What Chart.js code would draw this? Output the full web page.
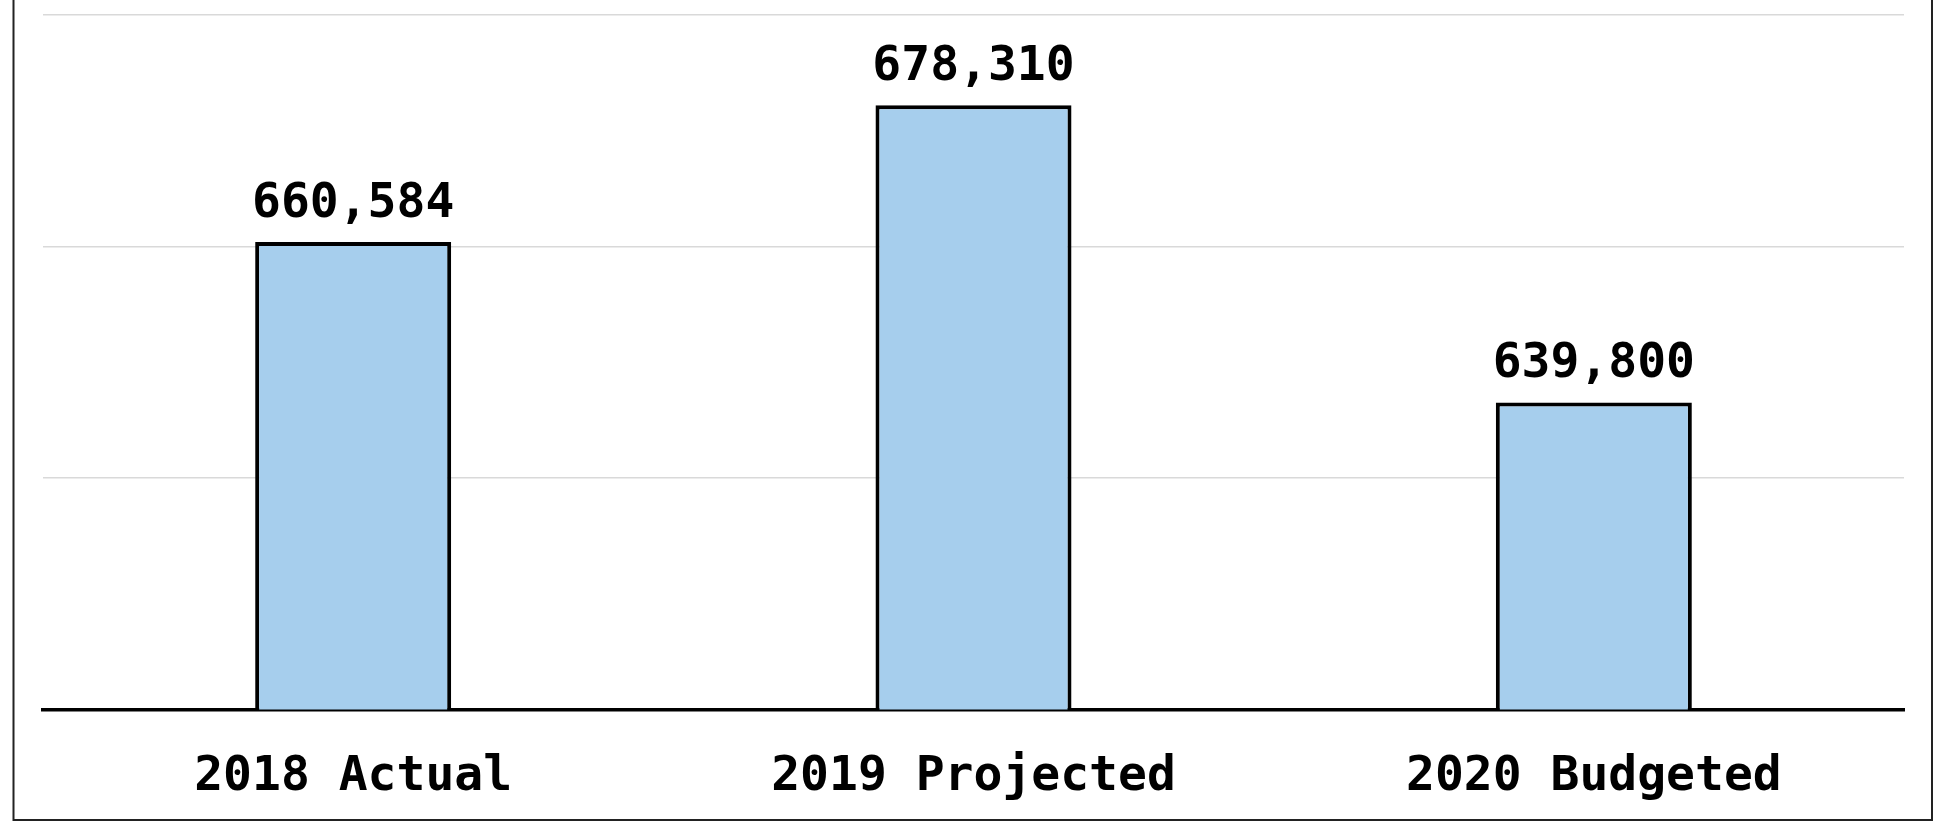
<!DOCTYPE html>
<html lang="en">
<head>
  <meta charset="UTF-8">
  <title>Budget comparison</title>
  <script src="https://cdn.jsdelivr.net/npm/chart.js"></script>
  <style>
    html, body {
      margin: 0;
      padding: 0;
      background: #ffffff;
      overflow: hidden;
    }

    .chart-box {
      position: relative;
      width: 1934px;
      height: 822px;
    }
  </style>
</head>
<body>
  <div class="chart-box">
    <canvas id="barChart"></canvas>
  </div>

  <script>
    const categories = ["2018 Actual", "2019 Projected", "2020 Budgeted"];
    const amounts = [660584, 678310, 639800];
    // value axis: hidden labels, gridlines only
    const axisMin = 600000;
    const axisMax = 690000;
    const axisStep = 30000;

    const monoFont = "'DejaVu Sans Mono', 'Liberation Mono', monospace";

    // outer frame (left, right, bottom sides are visible)
    const framePlugin = {
      id: "frame",
      beforeDraw(chart) {
        const c = chart.ctx;
        c.save();
        c.strokeStyle = "#222222";
        c.lineWidth = 2;
        c.beginPath();
        c.moveTo(13.5, 0);
        c.lineTo(13.5, 820);
        c.lineTo(1932, 820);
        c.lineTo(1932, 0);
        c.stroke();
        c.restore();
      }
    };

    // value labels above each bar
    const valueLabels = {
      id: "valueLabels",
      afterDatasetsDraw(chart) {
        const c = chart.ctx;
        const meta = chart.getDatasetMeta(0);
        c.save();
        c.font = "bold 48px " + monoFont;
        c.fillStyle = "#000000";
        c.textAlign = "center";
        c.textBaseline = "alphabetic";
        meta.data.forEach((bar, i) => {
          const v = chart.data.datasets[0].data[i];
          c.fillText(v.toLocaleString("en-US"), bar.x, bar.y - 25);
        });
        c.restore();
      }
    };

    const ctx = document.getElementById("barChart").getContext("2d");
    const barChart = new Chart(ctx, {
      type: "bar",
      data: {
        labels: categories,
        datasets: [{
          data: amounts,
          backgroundColor: "#a6ceed",
          borderColor: "#000000",
          borderWidth: 4,
          borderSkipped: false,
          barPercentage: 0.316,
          categoryPercentage: 1.0,
        }],
      },
      options: {
        responsive: true,
        maintainAspectRatio: false,
        animation: false,
        layout: {
          padding: { left: 43, right: 30, top: 15, bottom: 0 },
        },
        plugins: {
          legend: { display: false },
          tooltip: { enabled: false },
        },
        scales: {
          x: {
            grid: { display: false, drawTicks: false },
            border: { display: true, color: "#000000", width: 3.5 },
            ticks: {
              color: "#000000",
              padding: 39,
              font: { family: monoFont, size: 48, weight: "bold" },
            },
            afterFit: function(scale) {
              scale.height = 112.5;
            },
          },
          y: {
            min: axisMin,
            max: axisMax,
            ticks: { display: false, stepSize: axisStep },
            grid: { color: "#d9d9d9", lineWidth: 1.5, drawTicks: false },
            border: { display: false },
            afterFit: function(scale) {
              scale.width = 0;
            },
          },
        },
      },
      plugins: [framePlugin, valueLabels],
    });
  </script>
</body>
</html>
